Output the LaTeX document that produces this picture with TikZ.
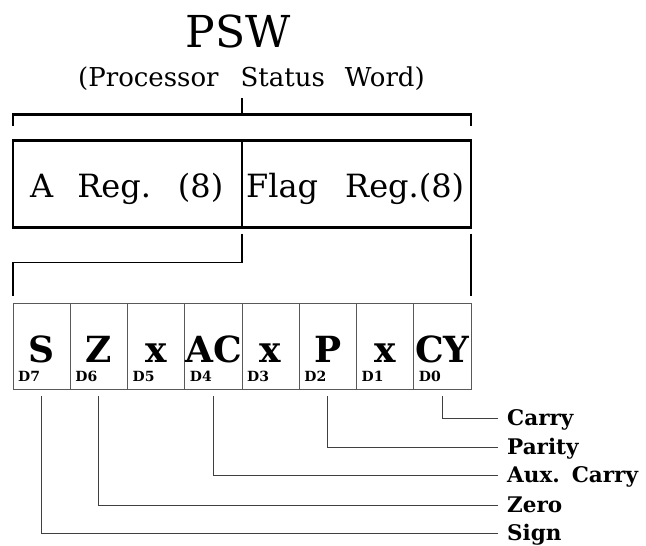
\documentclass[tikz,border=0pt]{standalone}
\usepackage{fontspec}
\setmainfont{DejaVu Serif}
\begin{document}
\begin{tikzpicture}[x=1pt,y=-1pt,
  regbox/.style={draw, line width=2.4pt, minimum width=229pt, minimum height=87pt, inner sep=0pt, outer sep=0pt},
  cellbox/.style={draw=black!65, line width=0.9pt, minimum width=57.25pt, minimum height=86pt, inner sep=0pt, outer sep=0pt},
  bracketline/.style={line width=2.4pt},
  feed/.style={line width=1.4pt},
  leader/.style={draw=black!75, line width=0.9pt},
  titletext/.style={font=\fontsize{44}{48}\selectfont, inner sep=0pt, anchor=base},
  subtext/.style={font=\fontsize{26}{29}\selectfont, inner sep=0pt, anchor=base west},
  regtext/.style={font=\fontsize{32}{36}\selectfont, inner sep=0pt, anchor=base west},
  bitletter/.style={font=\fontsize{36}{40}\selectfont\bfseries, inner sep=0pt, anchor=base},
  bitlabel/.style={font=\fontsize{14}{16}\selectfont\bfseries, inner sep=0pt, anchor=base west},
  legendtext/.style={font=\fontsize{21.5}{25}\selectfont\bfseries, inner sep=0pt, anchor=base west},
]
\useasboundingbox (0,0) rectangle (646,546);

% title
\node[titletext] (psw) at (238,47) {PSW};
\node[subtext] (sub) at (78,86) {(Processor\hspace{22pt}Status\hspace{20pt}Word)};

% register boxes
\node[regbox] (regA) at (127.5,184) {};
\node[regbox] (regF) at (356.5,184) {};
\node[regtext] (tA) at (30,197) {A\hspace{24pt}Reg.\hspace{27pt}(8)};
\node[regtext] (tF) at (246,197) {Flag\hspace{27pt}Reg.(8)};

% bracket
\draw[bracketline] ([yshift=15pt]regA.north west) -- ([yshift=26pt]regA.north west)
  -- ([yshift=26pt]regF.north east) -- ([yshift=15pt]regF.north east);
\draw[bracketline] ([yshift=26pt]regA.north east) -- ([yshift=43pt]regA.north east);

% bit cells
\foreach \i/\t/\d in {0/S/D7,1/Z/D6,2/x/D5,3/AC/D4,4/x/D3,5/P/D2,6/x/D1,7/CY/D0}{
  \pgfmathsetmacro{\cx}{13+57.25*\i+28.625}
  \pgfmathsetmacro{\lx}{13+57.25*\i+5}
  \node[cellbox] (cell\i) at (\cx,346) {};
  \node[bitletter] (bit\i) at (\cx,362) {\t};
  \node[bitlabel] (lab\i) at (\lx,381) {\d};
}

% feed lines from box to cells
\draw[feed] ([yshift=-6pt]regA.south east) -- ([yshift=-35pt]regA.south east)
  -| ([yshift=7pt]cell0.north west);
\draw[feed] ([yshift=-6pt]regF.south east) -- ([yshift=7pt]cell7.north east);

% legend
\node[legendtext] (lCY) at (507,425) {Carry};
\node[legendtext] (lP)  at (507,454) {Parity};
\node[legendtext] (lAC) at (507,482) {Aux.\hspace{12pt}Carry};
\node[legendtext] (lZ)  at (507,512) {Zero};
\node[legendtext] (lS)  at (507,540) {Sign};

\coordinate (eCY) at (498,418);
\coordinate (eP)  at (498,447);
\coordinate (eAC) at (498,475);
\coordinate (eZ)  at (498,505);
\coordinate (eS)  at (498,533);

\draw[leader] ([yshift=-7pt]cell7.south) |- (eCY);
\draw[leader] ([yshift=-7pt]cell5.south) |- (eP);
\draw[leader] ([yshift=-7pt]cell3.south) |- (eAC);
\draw[leader] ([yshift=-7pt]cell1.south) |- (eZ);
\draw[leader] ([yshift=-7pt]cell0.south) |- (eS);
\end{tikzpicture}
\end{document}
